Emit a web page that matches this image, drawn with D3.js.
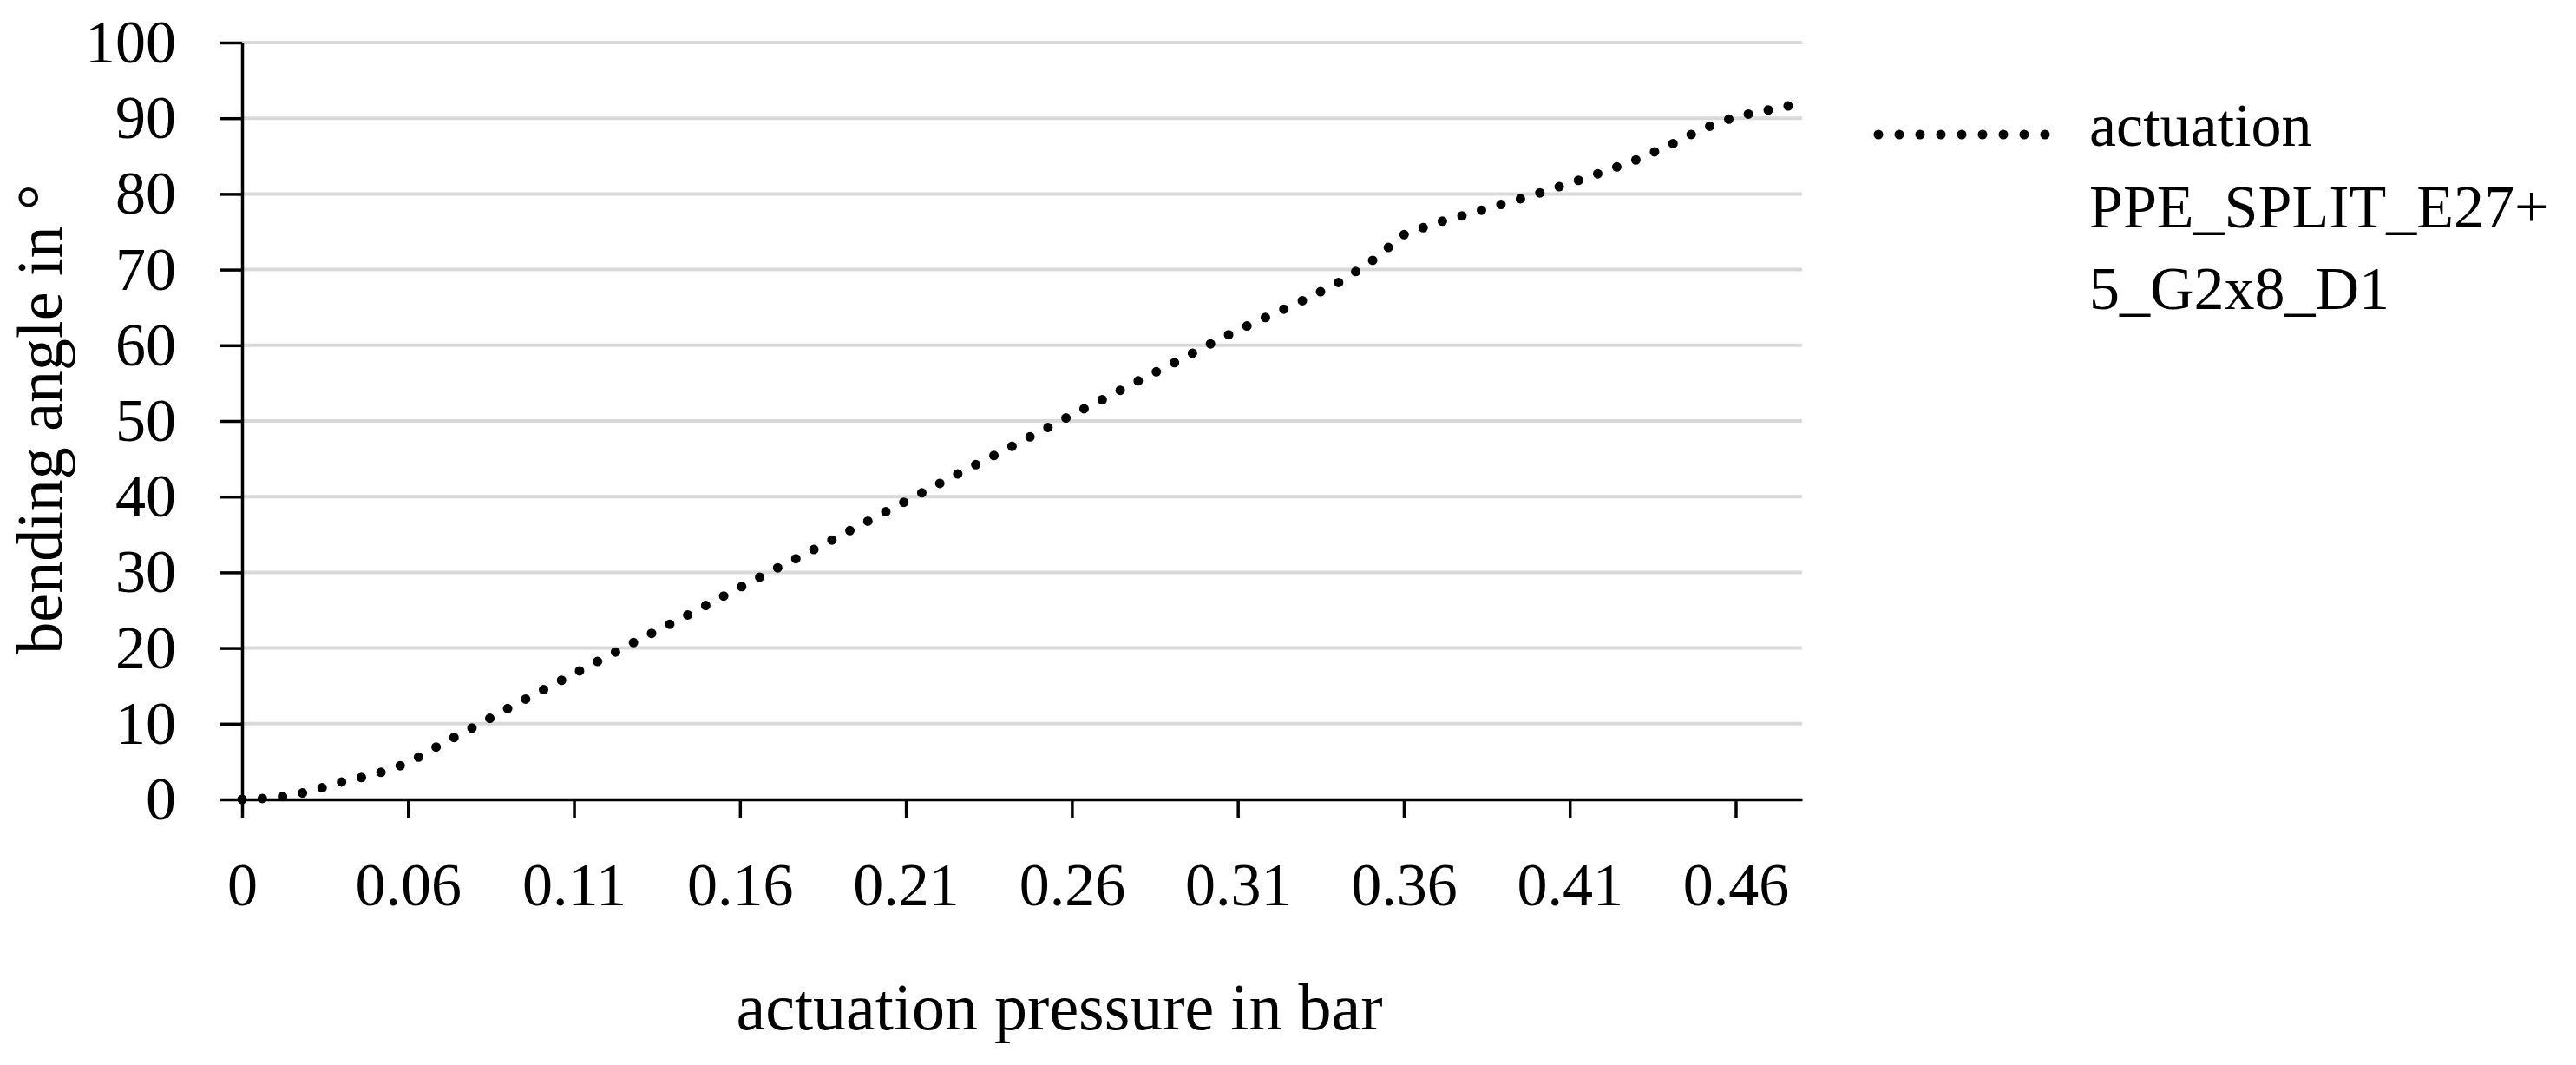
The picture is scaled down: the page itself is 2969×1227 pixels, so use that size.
<!DOCTYPE html>
<html>
<head>
<meta charset="utf-8">
<script src="https://cdn.jsdelivr.net/npm/d3@7"></script>
<style>
body { margin: 0; background: #fff; }
text { font-family: "Liberation Serif", "Times New Roman", serif; fill: #000; }
</style>
</head>
<body>
<script>
// categories on the x axis (bar), one per measurement
const pressure = [0, 0.02, 0.03, 0.04, 0.05, 0.06, 0.07, 0.08, 0.09, 0.10,
    0.11, 0.12, 0.13, 0.14, 0.15, 0.16, 0.17, 0.18, 0.19, 0.20,
    0.21, 0.22, 0.23, 0.24, 0.25, 0.26, 0.27, 0.28, 0.29, 0.30,
    0.31, 0.32, 0.33, 0.34, 0.35, 0.36, 0.37, 0.38, 0.39, 0.40,
    0.41, 0.42, 0.43, 0.44, 0.45, 0.46, 0.47, 0.48]
// bending angle in degrees
const angle = [0, 0.2, 1.0, 2.3, 3.3, 4.8, 7.3, 9.6, 12.0, 14.3,
    16.6, 18.9, 21.2, 23.4, 25.7, 28.0, 30.3, 32.5, 34.8, 37.1,
    39.4, 41.7, 44.0, 46.2, 48.5, 50.8, 53.0, 55.3, 57.5, 59.8,
    62.0, 64.0, 66.0, 68.2, 71.0, 74.6, 76.2, 77.4, 78.7, 80.0,
    81.4, 82.9, 84.5, 86.4, 88.6, 90.2, 91.1, 92.0]
const yTicks = [0, 10, 20, 30, 40, 50, 60, 70, 80, 90, 100]
const xLabelEvery = 5
const legendLines = ['actuation', 'PPE_SPLIT_E27+', '5_G2x8_D1']
const xTitle = 'actuation pressure in bar'
const yTitle = 'bending angle in \u00b0'

const chart = () => {
    var width = 2969,
        height = 1227
    var left = 279, right = 2077, top = 49, bottom = 921
    var fs = 70,
        titleFs = 74

    var svg = d3.select('body').append('svg')
        .attr('width', width)
        .attr('height', height)

    var x = d3.scalePoint()
        .domain(d3.range(pressure.length))
        .range([left, right])
    var y = d3.scaleLinear()
        .domain([0, 100])
        .range([bottom, top])

    // gridlines
    svg.append('g')
        .selectAll('line')
        .data(yTicks.filter(d => d > 0)).enter()
        .append('line')
        .attr('x1', left)
        .attr('x2', right)
        .attr('y1', d => y(d))
        .attr('y2', d => y(d))
        .attr('stroke', '#d9d9d9')
        .attr('stroke-width', 4)

    var yAxis = svg.append('g')
        .attr('transform', `translate(${left},0)`)
        .call(d3.axisLeft(y).tickValues(yTicks).tickSize(26).tickSizeOuter(0).tickPadding(50))
    yAxis.selectAll('text').attr('font-size', fs).attr('font-family', null)

    var xAxis = svg.append('g')
        .attr('transform', `translate(0,${bottom})`)
        .call(d3.axisBottom(x)
            .tickValues(d3.range(pressure.length).filter(i => i % xLabelEvery == 0))
            .tickFormat(i => String(pressure[i]))
            .tickSize(22).tickSizeOuter(0).tickPadding(50))
    xAxis.selectAll('text').attr('font-size', fs).attr('font-family', null)

    svg.selectAll('.domain, .tick line')
        .attr('stroke', '#000')
        .attr('stroke-width', 3.5)

    // the series, drawn as round dots
    var line = d3.line()
        .x((d, i) => x(i))
        .y(d => y(d))
    svg.append('path')
        .datum(angle)
        .attr('d', line)
        .attr('fill', 'none')
        .attr('stroke', '#000')
        .attr('stroke-width', 11)
        .attr('stroke-linecap', 'round')
        .attr('stroke-dasharray', '0 23.4')

    // legend
    svg.append('line')
        .attr('x1', 2165).attr('x2', 2362)
        .attr('y1', 155).attr('y2', 155)
        .attr('stroke', '#000')
        .attr('stroke-width', 11)
        .attr('stroke-linecap', 'round')
        .attr('stroke-dasharray', '0 24')
    svg.append('g')
        .selectAll('text')
        .data(legendLines).enter()
        .append('text')
        .attr('x', 2408)
        .attr('y', (d, i) => 168 + i * 94)
        .attr('font-size', fs)
        .text(d => d)

    // axis titles
    svg.append('text')
        .attr('x', 1221)
        .attr('y', 1186)
        .attr('text-anchor', 'middle')
        .attr('font-size', titleFs + 2)
        .text(xTitle)
    svg.append('text')
        .attr('transform', 'translate(71,483) rotate(-90)')
        .attr('text-anchor', 'middle')
        .attr('font-size', titleFs)
        .text(yTitle)
}

chart()
</script>
</body>
</html>
